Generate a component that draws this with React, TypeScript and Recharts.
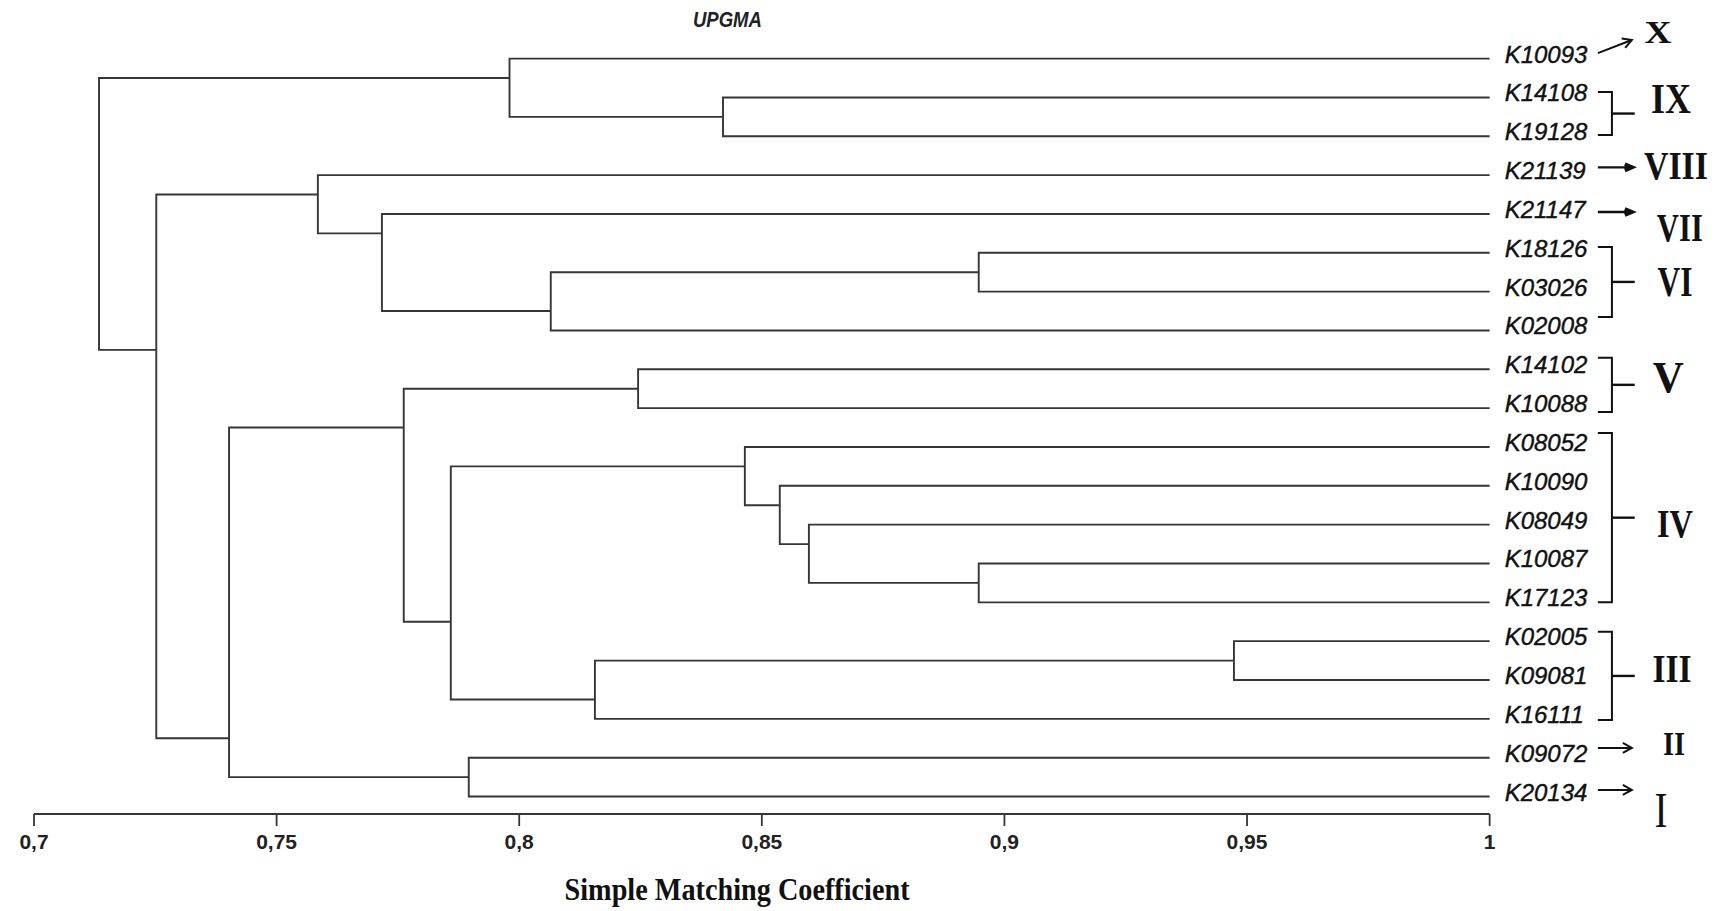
import { LineChart, Line, XAxis, YAxis, ReferenceLine, ReferenceDot } from "recharts";

// leaves, top to bottom
const leafNames = [
  "K10093", "K14108", "K19128", "K21139", "K21147",
  "K18126", "K03026", "K02008", "K14102", "K10088",
  "K08052", "K10090", "K08049", "K10087", "K17123",
  "K02005", "K09081", "K16111", "K09072", "K20134",
];

// UPGMA merges: [node, left child, right child, similarity]
const merges: [string, string, string, number][] = [
  ["n1", "K14108", "K19128", 0.842],
  ["n2", "K10093", "n1", 0.798],
  ["n3", "K18126", "K03026", 0.8947],
  ["n4", "n3", "K02008", 0.8065],
  ["n5", "K21147", "n4", 0.7717],
  ["n6", "K21139", "n5", 0.7585],
  ["n7", "K14102", "K10088", 0.8245],
  ["n8", "K10087", "K17123", 0.8947],
  ["n9", "K08049", "n8", 0.8597],
  ["n10", "K10090", "n9", 0.8537],
  ["n11", "K08052", "n10", 0.8465],
  ["n12", "K02005", "K09081", 0.9473],
  ["n13", "n12", "K16111", 0.8156],
  ["n14", "n11", "n13", 0.7859],
  ["n15", "n7", "n14", 0.7762],
  ["n16", "K09072", "K20134", 0.7896],
  ["n17", "n15", "n16", 0.7402],
  ["n18", "n6", "n17", 0.7252],
  ["n19", "n2", "n18", 0.7134],
];

const xTicks = [0.7, 0.75, 0.8, 0.85, 0.9, 0.95, 1];

// groups (roman numerals) and the leaves they cover
const groupNames = ["X", "IX", "VIII", "VII", "VI", "V", "IV", "III", "II", "I"];
const groupFirst = [0, 1, 3, 4, 5, 8, 10, 15, 18, 19];
const groupLast = [0, 2, 3, 4, 7, 9, 14, 17, 18, 19];

// ---- annotation layout (data units) ----
const numeralX = [1.0347, 1.0374, 1.0384, 1.0392, 1.0382, 1.0368, 1.0382, 1.0376, 1.038, 1.0353];
const numeralY = [-0.685, 1.04, 2.74, 4.36, 5.75, 8.22, 11.96, 15.69, 17.65, 19.35];
const numeralSize = [32, 42, 41, 40, 42, 44, 41, 41, 33, 50];
const numeralWidth = [27, 40, 64, 46, 35, 31, 36, 39, 22, 13];
const numeralWeight = ["bold", "bold", "bold", "bold", "bold", "bold", "bold", "bold", "bold", "normal"];
const bracketTop: Record<string, number> = { IX: -0.14, VI: -0.15, V: -0.3, IV: -0.36, III: -0.24 };
const bracketBottom: Record<string, number> = { IX: -0.03, VI: -0.35, V: 0.1, IV: 0, III: 0.03 };
const arrowTail: Record<string, number> = { X: -0.14, VIII: -0.2, VII: -0.05, II: -0.25, I: -0.17 };
const arrowHead: Record<string, number> = { X: -0.48, VIII: -0.2, VII: -0.05, II: -0.25, I: -0.17 };
const solidHead = ["VIII", "VII"];

const hookX = 1.0223;
const vertX = 1.0252;
const stubX = 1.0299;
const headX = 1.0293;
const pxPerX = 4852;
const pxPerY = 38.84;

const LINE = "#363636";
const INK = "#111";

type Info = { h: number; y: number; lo: number; hi: number };
const info: Record<string, Info> = {};
leafNames.forEach((n, i) => {
  info[n] = { h: 1, y: i, lo: i, hi: i };
});
merges.forEach(([id, a, b, h]) => {
  const A = info[a];
  const B = info[b];
  info[id] = { h, y: (A.hi + B.lo) / 2, lo: A.lo, hi: B.hi };
});

const links = merges.map(([, a, b, h]) => [
  { x: info[a].h, y: info[a].y },
  { x: h, y: info[a].y },
  { x: h, y: info[b].y },
  { x: info[b].h, y: info[b].y },
]);

type Pt = { x: number; y: number };
const annoPaths: { pts: Pt[]; w: number }[] = [];
groupNames.forEach((g, k) => {
  const first = groupFirst[k];
  const last = groupLast[k];
  if (first !== last) {
    const top = first + bracketTop[g];
    const bottom = last + bracketBottom[g];
    const mid = (top + bottom) / 2;
    annoPaths.push({
      pts: [
        { x: hookX, y: top },
        { x: vertX, y: top },
        { x: vertX, y: bottom },
        { x: hookX, y: bottom },
      ],
      w: 2,
    });
    annoPaths.push({ pts: [{ x: vertX, y: mid }, { x: stubX, y: mid }], w: 2.4 });
  } else {
    const y0 = first + arrowTail[g];
    const y1 = first + arrowHead[g];
    const solid = solidHead.includes(g);
    annoPaths.push({ pts: [{ x: hookX, y: y0 }, { x: headX, y: y1 }], w: solid ? 2.4 : 2 });
    const dx = (headX - hookX) * pxPerX;
    const dy = (y1 - y0) * pxPerY;
    const len = Math.hypot(dx, dy);
    const ux = dx / len;
    const uy = dy / len;
    const back = solid ? 7 : 9;
    const half = solid ? 3 : 5;
    const wing = (s: number) => ({
      x: headX + (-back * ux - s * half * uy) / pxPerX,
      y: y1 + (-back * uy + s * half * ux) / pxPerY,
    });
    annoPaths.push({ pts: [wing(1), { x: headX, y: y1 }, wing(-1)], w: solid ? 4 : 2 });
  }
});

const fmt = (v: number) => String(v).replace(".", ",");

const AxisTick = (p: any) => (
  <text
    x={p.x}
    y={p.y + 15}
    textAnchor="middle"
    fontFamily="Liberation Sans, Arial, sans-serif"
    fontWeight="bold"
    fontSize={21}
    fill="#222"
  >
    {fmt(p.payload.value)}
  </text>
);

export default function App() {
  return (
    <div>
      <style>{"body{margin:0}"}</style>
      <LineChart width={1720} height={910} margin={{ top: 12, right: 12, bottom: 0, left: 34 }}>
        <XAxis
          dataKey="x"
          type="number"
          domain={[0.7, 1.045]}
          ticks={xTicks}
          interval={0}
          axisLine={false}
          tickSize={12}
          tickMargin={8}
          tickLine={{ stroke: LINE, strokeWidth: 1.8 }}
          tick={AxisTick}
          height={96}
        />
        <YAxis type="number" domain={[-1.2, 19.45]} reversed hide />
        <ReferenceLine
          segment={[
            { x: 0.7, y: 19.45 },
            { x: 1, y: 19.45 },
          ]}
          stroke={LINE}
          strokeWidth={1.9}
          ifOverflow="visible"
        />
        {links.map((pts, i) => (
          <Line
            key={"l" + i}
            data={pts}
            dataKey="y"
            type="linear"
            stroke={LINE}
            strokeWidth={1.9}
            dot={false}
            activeDot={false}
            isAnimationActive={false}
          />
        ))}
        {annoPaths.map((a, i) => (
          <Line
            key={"a" + i}
            data={a.pts}
            dataKey="y"
            type="linear"
            stroke={INK}
            strokeWidth={a.w}
            dot={false}
            activeDot={false}
            isAnimationActive={false}
          />
        ))}
        {leafNames.map((n, i) => (
          <ReferenceDot
            key={n}
            x={1}
            y={i}
            r={0}
            ifOverflow="visible"
            shape={(p: any) => (
              <text
                x={p.cx + 15}
                y={p.cy + 4}
                fontFamily="Liberation Sans, Arial, sans-serif"
                fontStyle="italic"
                fontSize={24}
                stroke={INK}
                strokeWidth={0.4}
                fill={INK}
              >
                {n}
              </text>
            )}
          />
        ))}
        {groupNames.map((g, k) => (
          <ReferenceDot
            key={g}
            x={numeralX[k]}
            y={numeralY[k]}
            r={0}
            ifOverflow="visible"
            shape={(p: any) => (
              <text
                x={p.cx}
                y={p.cy + numeralSize[k] * 0.331}
                textAnchor="middle"
                fontFamily="Liberation Serif, Times New Roman, serif"
                fontWeight={numeralWeight[k]}
                fontSize={numeralSize[k]}
                textLength={numeralWidth[k]}
                lengthAdjust="spacingAndGlyphs"
                fill={INK}
              >
                {g}
              </text>
            )}
          />
        ))}
        <ReferenceDot
          x={0.8429}
          y={-0.81}
          r={0}
          ifOverflow="visible"
          shape={(p: any) => (
            <text
              x={p.cx}
              y={p.cy}
              textAnchor="middle"
              fontFamily="Liberation Sans, Arial, sans-serif"
              fontStyle="italic"
              fontWeight="bold"
              fontSize={22}
              textLength={69}
              lengthAdjust="spacingAndGlyphs"
              fill="#222"
            >
              UPGMA
            </text>
          )}
        />
        <ReferenceDot
          x={0.8449}
          y={21.66}
          r={0}
          ifOverflow="visible"
          shape={(p: any) => (
            <text
              x={p.cx}
              y={p.cy}
              textAnchor="middle"
              fontFamily="Liberation Serif, Times New Roman, serif"
              fontWeight="bold"
              fontSize={32}
              textLength={345}
              lengthAdjust="spacingAndGlyphs"
              fill={INK}
            >
              Simple Matching Coefficient
            </text>
          )}
        />
      </LineChart>
    </div>
  );
}
